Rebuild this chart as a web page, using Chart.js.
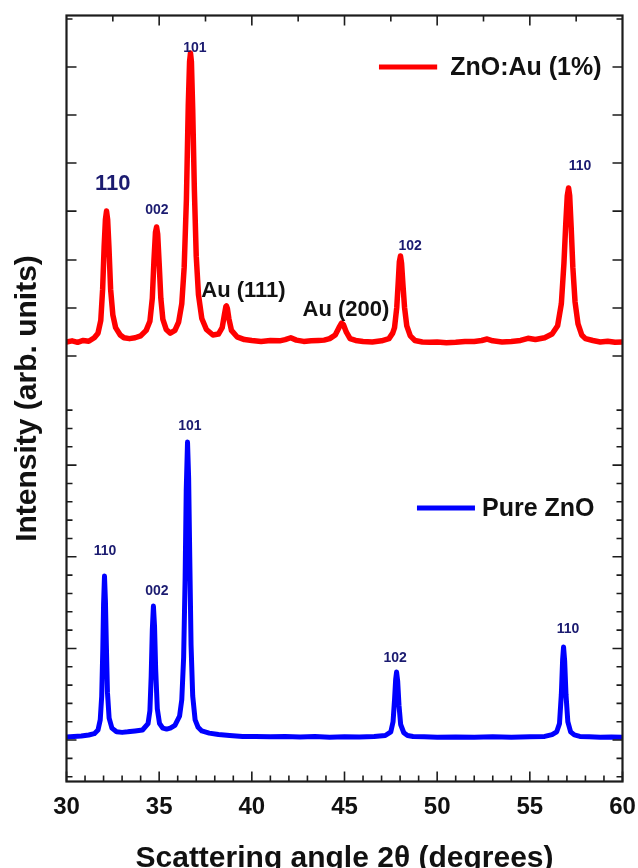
<!DOCTYPE html>
<html>
<head>
<meta charset="utf-8">
<script src="https://cdn.jsdelivr.net/npm/chart.js@4.4.1/dist/chart.umd.min.js"></script>
<style>
  html, body { margin: 0; padding: 0; background: #fff; }
  #wrap { width: 638px; height: 868px; }
</style>
</head>
<body>
<div id="wrap"><canvas id="xrd" width="638" height="868"></canvas></div>
<script>
// XRD scans: [2theta, intensity (arb.)]
const dopedScan = [
  [30.0,23.72],[30.3,23.78],[30.6,23.70],[30.9,23.80],[31.2,23.76],[31.5,23.95],[31.7,24.2],[31.85,24.9],
  [31.95,26.6],[32.03,28.9],[32.1,30.4],[32.16,30.86],[32.22,30.4],[32.29,28.9],[32.38,26.6],[32.5,25.2],
  [32.65,24.5],[32.9,24.1],[33.1,23.95],[33.4,23.9],[33.7,23.95],[34.0,24.05],[34.3,24.35],[34.5,24.85],
  [34.63,26.1],[34.72,28.2],[34.8,29.7],[34.86,29.99],[34.92,29.6],[35.0,28.0],[35.09,26.1],[35.2,24.95],
  [35.38,24.4],[35.6,24.2],[35.85,24.35],[36.05,24.8],[36.22,25.8],[36.35,27.8],
  [36.47,31.5],[36.57,36.6],[36.64,39.0],[36.69,39.48],[36.74,39.0],[36.81,36.4],[36.9,32.0],[37.0,28.4],
  [37.12,26.3],[37.3,25.0],[37.55,24.4],[37.9,24.1],[38.2,24.15],[38.4,24.5],
  [38.52,25.2],[38.6,25.65],[38.63,25.68],[38.68,25.55],[38.76,25.0],[38.9,24.35],[39.2,24.0],[39.6,23.85],
  [40.0,23.8],[40.5,23.75],[41.0,23.8],[41.5,23.78],[41.8,23.85],[42.1,23.95],[42.4,23.82],[42.8,23.75],
  [43.2,23.78],[43.6,23.8],[43.9,23.82],[44.2,23.9],[44.5,24.1],
  [44.7,24.5],[44.84,24.75],[44.95,24.65],[45.1,24.25],[45.3,23.9],[45.6,23.8],[46.0,23.75],[46.5,23.72],
  [47.0,23.78],[47.4,23.9],[47.6,24.2],[47.7,24.5],[47.82,25.6],
  [47.9,27.0],[47.96,28.1],[48.02,28.41],[48.08,28.0],[48.15,26.9],[48.24,25.6],[48.36,24.6],[48.55,24.05],
  [48.8,23.8],[49.2,23.72],[49.6,23.7],[50.0,23.72],[50.5,23.68],[51.0,23.7],[51.5,23.75],[52.0,23.75],
  [52.4,23.8],[52.7,23.88],[53.0,23.78],[53.5,23.72],[54.0,23.75],[54.5,23.8],[54.9,23.92],[55.3,23.85],
  [55.8,23.95],[56.2,24.15],[56.5,24.6],[56.7,25.8],[56.84,28.0],
  [56.94,30.2],[57.02,31.7],[57.09,32.12],[57.15,31.7],[57.23,30.0],[57.32,27.8],[57.44,25.9],[57.6,24.7],
  [57.8,24.1],[58.0,23.9],[58.4,23.8],[58.8,23.72],[59.2,23.76],[59.6,23.7],[60.0,23.72]
];

const pureScan = [
  [30.0,2.17],[30.4,2.2],[30.8,2.22],[31.2,2.28],[31.5,2.35],[31.7,2.55],[31.82,3.1],[31.9,4.4],
  [31.96,7.0],[32.0,9.4],[32.05,10.95],[32.1,9.6],[32.15,7.2],[32.21,4.6],[32.3,3.2],[32.45,2.65],
  [32.7,2.45],[33.0,2.42],[33.3,2.45],[33.7,2.5],[34.1,2.55],[34.4,2.9],[34.5,3.6],
  [34.57,5.5],[34.63,8.0],[34.69,9.31],[34.75,8.2],[34.81,5.9],[34.9,3.7],[35.02,2.9],[35.2,2.65],
  [35.4,2.6],[35.6,2.65],[35.85,2.8],[36.1,3.3],[36.22,4.2],[36.32,6.5],
  [36.4,10.8],[36.46,15.6],[36.53,18.26],[36.59,16.3],[36.65,12.0],[36.72,7.2],[36.81,4.4],[36.94,3.1],
  [37.1,2.7],[37.3,2.5],[37.7,2.38],[38.2,2.3],[38.8,2.25],[39.5,2.2],[40.2,2.2],
  [41.0,2.18],[41.8,2.2],[42.6,2.17],[43.4,2.2],[44.2,2.16],[45.0,2.18],[45.8,2.17],[46.6,2.2],
  [47.2,2.25],[47.5,2.45],[47.62,3.0],[47.7,4.2],
  [47.76,5.3],[47.81,5.71],[47.87,5.2],[47.94,3.9],[48.03,2.85],[48.2,2.4],[48.4,2.25],[48.7,2.2],
  [49.3,2.18],[50.0,2.15],[51.0,2.17],[52.0,2.15],[53.0,2.18],[54.0,2.15],[55.0,2.18],[55.8,2.2],
  [56.2,2.3],[56.45,2.45],[56.6,2.9],[56.7,4.5],
  [56.77,6.4],[56.82,7.08],[56.88,6.3],[56.95,4.5],[57.05,3.0],[57.2,2.45],[57.4,2.28],[57.7,2.2],
  [58.2,2.18],[58.8,2.15],[59.4,2.17],[60.0,2.16]
];

const seriesNames = ['ZnO:Au (1%)', 'Pure ZnO'];

// axis ticks
const xTickLabels = [30, 35, 40, 45, 50, 55, 60];
const xMinorTicks = [31,32,33,34,36,37,38,39,41,42,43,44,46,47,48,49,51,52,53,54,56,57,58,59];
const xTopTicks = [32.5, 35, 37.5, 40, 42.5, 45, 47.5, 50, 52.5, 55, 57.5];
const yLowerTicks = [0,1,2,3,4,5,6,7,8,9,10,11,12,13,14,15,16,17,18,19,20];
const yLowerMajor = [2, 7, 12, 17];
const yUpperTicks = [22.95, 25.57, 28.19, 30.86, 33.48, 36.1, 38.72];
const yTopTick = [41.34];

// reflection labels
const hklNotes = [
  { text: '110', x: 32.5,  y: 32.33, size: 22, color: '#1b1b70' },
  { text: '002', x: 34.88, y: 30.91, size: 14, color: '#1b1b70' },
  { text: '101', x: 36.93, y: 39.75, size: 14, color: '#1b1b70' },
  { text: 'Au (111)', x: 39.55, y: 26.5, size: 22, color: '#111' },
  { text: 'Au (200)', x: 45.08, y: 25.46, size: 22, color: '#111' },
  { text: '102', x: 48.54, y: 28.95, size: 14, color: '#1b1b70' },
  { text: '110', x: 57.71, y: 33.32, size: 14, color: '#1b1b70' },
  { text: '110', x: 32.08, y: 12.31, size: 14, color: '#1b1b70' },
  { text: '002', x: 34.88, y: 10.13, size: 14, color: '#1b1b70' },
  { text: '101', x: 36.66, y: 19.13, size: 14, color: '#1b1b70' },
  { text: '102', x: 47.73, y: 6.48,  size: 14, color: '#1b1b70' },
  { text: '110', x: 57.06, y: 8.06,  size: 14, color: '#1b1b70' }
];

const legendSpots = [
  { ds: 0, x0: 46.86, x1: 50.0, tx: 50.7, y: 38.72 },
  { ds: 1, x0: 48.91, x1: 52.04, tx: 52.42, y: 14.66 }
];

const FONT = "'Liberation Sans', Arial, Helvetica, sans-serif";

const toPoints = arr => arr.map(p => ({ x: p[0], y: p[1] }));

const framePlugin = {
  id: 'framePlugin',
  afterDatasetsDraw(chart) {
    const { ctx, chartArea: a, scales: { x, y } } = chart;
    ctx.save();
    ctx.strokeStyle = '#1c1c1c';
    ctx.lineWidth = 1.6;
    ctx.beginPath();
    xTickLabels.forEach(v => { const p = x.getPixelForValue(v); ctx.moveTo(p, a.bottom); ctx.lineTo(p, a.bottom - 10); });
    xMinorTicks.forEach(v => { const p = x.getPixelForValue(v); ctx.moveTo(p, a.bottom); ctx.lineTo(p, a.bottom - 6); });
    xTopTicks.forEach(v => {
      const p = x.getPixelForValue(v);
      const len = v % 5 === 0 ? 10 : 6;
      ctx.moveTo(p, a.top); ctx.lineTo(p, a.top + len);
    });
    yLowerTicks.forEach(v => {
      const p = y.getPixelForValue(v);
      const len = yLowerMajor.includes(v) ? 10 : 6;
      ctx.moveTo(a.left, p); ctx.lineTo(a.left + len, p);
      ctx.moveTo(a.right, p); ctx.lineTo(a.right - len, p);
    });
    yUpperTicks.concat(yTopTick).forEach(v => {
      const p = y.getPixelForValue(v);
      const len = yTopTick.includes(v) ? 6 : 10;
      ctx.moveTo(a.left, p); ctx.lineTo(a.left + len, p);
      ctx.moveTo(a.right, p); ctx.lineTo(a.right - len, p);
    });
    ctx.stroke();
    ctx.lineWidth = 2.2;
    ctx.strokeRect(a.left, a.top, a.right - a.left, a.bottom - a.top);

    // peak labels
    ctx.textAlign = 'center';
    ctx.textBaseline = 'middle';
    hklNotes.forEach(n => {
      ctx.font = 'bold ' + n.size + 'px ' + FONT;
      ctx.fillStyle = n.color;
      ctx.fillText(n.text, x.getPixelForValue(n.x), y.getPixelForValue(n.y));
    });

    // legends next to each trace
    ctx.textAlign = 'left';
    ctx.font = 'bold 25px ' + FONT;
    legendSpots.forEach(l => {
      const ds = chart.data.datasets[l.ds];
      const py = y.getPixelForValue(l.y);
      ctx.strokeStyle = ds.borderColor;
      ctx.lineWidth = 5;
      ctx.beginPath();
      ctx.moveTo(x.getPixelForValue(l.x0), py);
      ctx.lineTo(x.getPixelForValue(l.x1), py);
      ctx.stroke();
      ctx.fillStyle = '#111';
      ctx.fillText(ds.label, x.getPixelForValue(l.tx), py + 1);
    });
    ctx.restore();
  }
};

new Chart(document.getElementById('xrd'), {
  type: 'line',
  data: {
    datasets: [
      {
        label: seriesNames[0],
        data: toPoints(dopedScan),
        borderColor: '#ff0000',
        borderWidth: 5.5,
        pointRadius: 0,
        tension: 0,
        borderJoinStyle: 'round'
      },
      {
        label: seriesNames[1],
        data: toPoints(pureScan),
        borderColor: '#0000ff',
        borderWidth: 5,
        pointRadius: 0,
        tension: 0,
        borderJoinStyle: 'round'
      }
    ]
  },
  options: {
    responsive: false,
    animation: false,
    layout: { padding: { left: 0, right: 15.5, top: 15.5, bottom: 0 } },
    plugins: { legend: { display: false }, tooltip: { enabled: false } },
    scales: {
      x: {
        type: 'linear',
        min: 30,
        max: 60,
        grid: { display: false },
        border: { display: false },
        afterBuildTicks: s => { s.ticks = xTickLabels.map(v => ({ value: v })); },
        afterFit: s => { s.height = 86.5; s.paddingLeft = 0; s.paddingRight = 0; },
        ticks: {
          color: '#111',
          padding: 3,
          maxRotation: 0,
          font: { family: FONT, size: 24, weight: 'bold' }
        },
        title: {
          display: true,
          text: 'Scattering angle 2θ (degrees)',
          color: '#111',
          padding: { top: 0, bottom: 0 },
          font: { family: FONT, size: 30, weight: 'bold', lineHeight: 0.6 }
        }
      },
      y: {
        type: 'linear',
        min: -0.26,
        max: 41.53,
        grid: { display: false },
        border: { display: false },
        ticks: { display: false },
        afterFit: s => { s.width = 66.5; },
        title: {
          display: true,
          text: 'Intensity (arb. units)',
          color: '#111',
          padding: { top: 10, bottom: 0 },
          font: { family: FONT, size: 30, weight: 'bold' }
        }
      }
    }
  },
  plugins: [framePlugin]
});
</script>
</body>
</html>
